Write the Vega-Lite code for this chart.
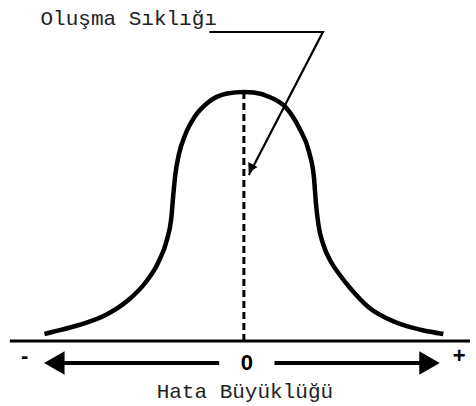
{
  "$schema": "https://vega.github.io/schema/vega-lite/v6.json",
  "width": 476,
  "height": 406,
  "padding": 0,
  "autosize": {"type": "fit", "contains": "padding"},
  "background": "white",
  "config": {"view": {"stroke": null}},
  "datasets": {
    "curve": [
      {"error": -4.04, "frequency": 0.028},
      {"error": -3.88, "frequency": 0.036},
      {"error": -3.34, "frequency": 0.064},
      {"error": -2.8, "frequency": 0.104},
      {"error": -2.34, "frequency": 0.164},
      {"error": -2.0, "frequency": 0.232},
      {"error": -1.74, "frequency": 0.312},
      {"error": -1.56, "frequency": 0.404},
      {"error": -1.47, "frequency": 0.492},
      {"error": -1.43, "frequency": 0.584},
      {"error": -1.39, "frequency": 0.664},
      {"error": -1.32, "frequency": 0.744},
      {"error": -1.19, "frequency": 0.824},
      {"error": -1.0, "frequency": 0.896},
      {"error": -0.74, "frequency": 0.952},
      {"error": -0.34, "frequency": 0.99},
      {"error": 0, "frequency": 0.996},
      {"error": 0.2, "frequency": 0.994},
      {"error": 0.52, "frequency": 0.976},
      {"error": 0.86, "frequency": 0.932},
      {"error": 1.12, "frequency": 0.852},
      {"error": 1.32, "frequency": 0.756},
      {"error": 1.42, "frequency": 0.652},
      {"error": 1.46, "frequency": 0.55},
      {"error": 1.51, "frequency": 0.465},
      {"error": 1.61, "frequency": 0.385},
      {"error": 1.76, "frequency": 0.318},
      {"error": 1.94, "frequency": 0.265},
      {"error": 2.16, "frequency": 0.21},
      {"error": 2.52, "frequency": 0.136},
      {"error": 3.06, "frequency": 0.076},
      {"error": 3.6, "frequency": 0.044},
      {"error": 4.04, "frequency": 0.028}
    ],
    "baseline": [
      {"error": -4.74, "frequency": 0},
      {"error": 4.58, "frequency": 0}
    ],
    "center": [
      {"error": 0, "frequency": 0},
      {"error": 0, "frequency": 1.0}
    ],
    "shafts": [
      {"side": "negative", "error": -0.5, "frequency": -0.088},
      {"side": "negative", "error": -3.7, "frequency": -0.088},
      {"side": "positive", "error": 0.62, "frequency": -0.088},
      {"side": "positive", "error": 3.7, "frequency": -0.088}
    ],
    "leftHead": [{"error": -3.84, "frequency": -0.088}],
    "rightHead": [{"error": 3.76, "frequency": -0.088}],
    "leader": [
      {"step": 1, "error": -0.7, "frequency": 1.236},
      {"step": 2, "error": 1.6, "frequency": 1.236},
      {"step": 3, "error": 0.1, "frequency": 0.664}
    ],
    "leaderHead": [{"error": 0.14, "frequency": 0.69}],
    "titleTop": [{"label": "Oluşma Sıklığı", "error": -4.12, "frequency": 1.264}],
    "titleBottom": [{"label": "Hata Büyüklüğü", "error": 0.02, "frequency": -0.228}],
    "zero": [{"label": "0", "error": 0.06, "frequency": -0.088}],
    "signs": [
      {"label": "-", "error": -4.44, "frequency": -0.06},
      {"label": "+", "error": 4.36, "frequency": -0.06}
    ]
  },
  "encoding": {
    "x": {"field": "error", "type": "quantitative", "scale": {"domain": [-4.94, 4.58], "nice": false, "zero": false}, "axis": null},
    "y": {"field": "frequency", "type": "quantitative", "scale": {"domain": [-0.26, 1.364], "nice": false, "zero": false}, "axis": null}
  },
  "layer": [
    {"data": {"name": "baseline"}, "mark": {"type": "line", "color": "black", "strokeWidth": 3}, "encoding": {}},
    {"data": {"name": "center"}, "mark": {"type": "line", "color": "black", "strokeWidth": 3, "strokeDash": [7, 4]}, "encoding": {}},
    {"data": {"name": "curve"}, "mark": {"type": "line", "color": "black", "strokeWidth": 4.5, "interpolate": "monotone", "strokeCap": "butt"}, "encoding": {}},
    {"data": {"name": "shafts"}, "mark": {"type": "line", "color": "black", "strokeWidth": 4}, "encoding": {"detail": {"field": "side"}}},
    {"data": {"name": "leftHead"}, "mark": {"type": "point", "shape": "triangle-left", "size": 560, "filled": true, "color": "black", "opacity": 1}, "encoding": {}},
    {"data": {"name": "rightHead"}, "mark": {"type": "point", "shape": "triangle-right", "size": 560, "filled": true, "color": "black", "opacity": 1}, "encoding": {}},
    {"data": {"name": "leader"}, "mark": {"type": "line", "color": "black", "strokeWidth": 2.2}, "encoding": {"order": {"field": "step", "type": "quantitative"}}},
    {"data": {"name": "leaderHead"}, "mark": {"type": "point", "shape": "triangle-up", "angle": 208, "size": 110, "filled": true, "color": "black", "opacity": 1}, "encoding": {}},
    {"data": {"name": "titleTop"}, "mark": {"type": "text", "font": "Liberation Mono", "fontSize": 21, "align": "left", "baseline": "alphabetic", "color": "#222"}, "encoding": {"text": {"field": "label"}}},
    {"data": {"name": "titleBottom"}, "mark": {"type": "text", "font": "Liberation Mono", "fontSize": 21, "align": "center", "baseline": "alphabetic", "color": "#222"}, "encoding": {"text": {"field": "label"}}},
    {"data": {"name": "zero"}, "mark": {"type": "text", "font": "Liberation Sans", "fontSize": 22, "fontWeight": "bold", "align": "center", "baseline": "middle", "color": "black"}, "encoding": {"text": {"field": "label"}}},
    {"data": {"name": "signs"}, "mark": {"type": "text", "font": "Liberation Sans", "fontSize": 22, "fontWeight": "bold", "align": "center", "baseline": "middle", "color": "black"}, "encoding": {"text": {"field": "label"}}}
  ]
}
